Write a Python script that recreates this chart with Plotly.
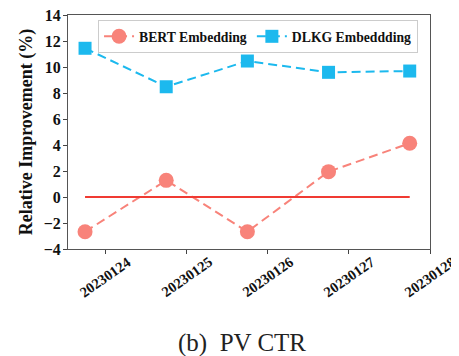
import plotly.graph_objects as go

dates = ["20230124", "20230125", "20230126", "20230127", "20230128"]
bert = [-2.67, 1.28, -2.67, 1.95, 4.13]
dlkg = [11.44, 8.48, 10.46, 9.59, 9.69]
baseline = [0, 0]
yticks = [-4, -2, 0, 2, 4, 6, 8, 10, 12, 14]

pts = list(range(len(bert)))
tick_pos = [p + 0.25 for p in pts]
FONT = "Liberation Serif"

fig = go.Figure()
fig.add_trace(go.Scatter(
    x=pts, y=bert, mode="lines+markers", name="<b>BERT Embedding</b>",
    line=dict(color="#F8837A", width=2, dash="9px,5px"),
    marker=dict(symbol="circle", size=15, color="#F8837A"),
))
fig.add_trace(go.Scatter(
    x=pts, y=dlkg, mode="lines+markers", name="<b>DLKG Embeddding</b>",
    line=dict(color="#1CB9EE", width=2, dash="9px,5px"),
    marker=dict(symbol="square", size=13, color="#1CB9EE"),
))
fig.add_trace(go.Scatter(
    x=[pts[0], pts[-1]], y=baseline, mode="lines", showlegend=False,
    line=dict(color="#F03A32", width=2),
))

for tp, d in zip(tick_pos, dates):
    fig.add_annotation(x=tp, xref="x", y=0, yref="paper", text="<b>%s</b>" % d,
                       textangle=-35, showarrow=False, xanchor="center",
                       yanchor="middle", yshift=-28,
                       font=dict(family=FONT, size=14.5, color="#111"))

fig.add_annotation(x=0.482, xref="paper", y=0, yref="paper",
                   text="(b)\u00a0\u00a0PV CTR", showarrow=False,
                   xanchor="center", yanchor="middle", yshift=-94,
                   font=dict(family=FONT, size=25, color="#222"))

fig.update_layout(
    width=451, height=348,
    margin=dict(l=60, r=29, t=7, b=107),
    paper_bgcolor="white", plot_bgcolor="white",
    font=dict(family=FONT, color="#111"),
    showlegend=True,
    legend=dict(orientation="h", x=0.083, y=0.979, xanchor="left", yanchor="top",
                bgcolor="rgba(255,255,255,0.9)", bordercolor="#ccc", borderwidth=1,
                font=dict(family=FONT, size=13.7), tracegroupgap=0),
    xaxis=dict(range=[-0.21, 4.25], tickvals=tick_pos, ticktext=[""] * len(tick_pos),
               ticks="outside", ticklen=4, tickcolor="#444",
               showline=True, linecolor="#555", linewidth=1, mirror=True,
               showgrid=False, zeroline=False, automargin=False),
    yaxis=dict(range=[-4, 14], tickvals=yticks,
               ticktext=["<b>%s</b>" % (("\u2212%d" % -v) if v < 0 else str(v)) for v in yticks],
               ticks="outside", ticklen=4, tickcolor="#444",
               tickfont=dict(family=FONT, size=16), ticklabelstandoff=-1,
               ticklabeloverflow="allow",
               showline=True, linecolor="#555", linewidth=1, mirror=True,
               showgrid=False, zeroline=False, automargin=False,
               title=dict(text="<b>Relative Improvement (%)</b>",
                          font=dict(family=FONT, size=18), standoff=6)),
)

fig.write_html("out.html")
